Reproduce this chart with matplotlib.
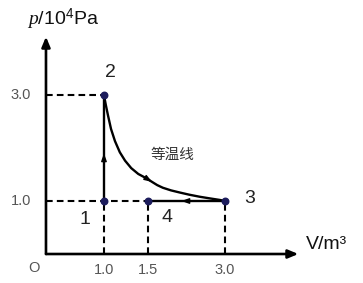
import numpy as np
import matplotlib
matplotlib.use("Agg")
import matplotlib.pyplot as plt
from matplotlib.scale import FuncScale

plt.rcParams["font.family"] = ["Liberation Sans", "DejaVu Sans"]
plt.rcParams["mathtext.fontset"] = "custom"
plt.rcParams["mathtext.rm"] = "Liberation Sans"
plt.rcParams["mathtext.it"] = "Liberation Serif:italic"

# states of the cycle (V in m^3, p in 1e4 Pa)
state_names = ["1", "2", "3", "4"]
state_V = [1.0, 1.0, 3.0, 1.5]
state_p = [1.0, 3.0, 1.0, 1.0]

# isotherm 2 -> 3
iso_V = [1.0, 1.02, 1.045, 1.08, 1.125, 1.18, 1.24, 1.31, 1.39, 1.48, 1.58, 1.68,
         1.79, 1.95, 2.12, 2.3, 2.51, 2.7, 2.9, 3.0]
iso_p = [3.0, 2.82, 2.62, 2.36, 2.13, 1.92, 1.76, 1.62, 1.51, 1.43, 1.36, 1.30,
         1.25, 1.20, 1.16, 1.12, 1.08, 1.05, 1.02, 1.0]

xticks = [1.0, 1.5, 3.0]
yticks = [1.0, 3.0]

# the sketch is not to scale on V: piecewise axis
knots_V = [-1.0, 0.0, 1.0, 1.5, 3.0, 6.0]
knots_u = [-58.0, 0.0, 58.0, 102.0, 179.0, 333.0]


def fwd(v):
    return np.interp(v, knots_V, knots_u)


def inv(u):
    return np.interp(u, knots_u, knots_V)


fig = plt.figure(figsize=(3.63, 2.83), dpi=100)
ax = fig.add_axes([0, 0, 1, 1])
ax.set_xscale(FuncScale(ax.xaxis, (fwd, inv)))
ax.set_xlim(-0.793, 5.69)
ax.set_ylim(-0.547, 4.792)
ax.axis("off")

navy = "#1c1c5c"
grey = "#555555"
dash = dict(color="black", lw=1.5, ls=(0, (3.2, 2)))

# axes with arrows
ax.annotate("", xy=(4.43, 0), xytext=(0, 0),
            arrowprops=dict(arrowstyle="-|>,head_length=0.6,head_width=0.25", lw=1.9, color="black", shrinkA=0, shrinkB=0))
ax.annotate("", xy=(0, 4.1), xytext=(0, 0),
            arrowprops=dict(arrowstyle="-|>,head_length=0.6,head_width=0.25", lw=1.9, color="black", shrinkA=0, shrinkB=0))

# guide lines
ax.plot([0, state_V[1]], [state_p[1], state_p[1]], **dash)
ax.plot([0, state_V[3]], [state_p[0], state_p[0]], **dash)
for v in xticks:
    ax.plot([v, v], [0, 1.0], **dash)

# process lines
ax.plot([state_V[0], state_V[1]], [state_p[0], state_p[1]], color="black", lw=1.7)
ax.plot([state_V[3], state_V[2]], [state_p[3], state_p[2]], color="black", lw=1.7)
ax.plot(iso_V, iso_p, color="black", lw=1.7, solid_joinstyle="round")

# direction arrows
head = dict(arrowstyle="-|>,head_length=0.45,head_width=0.16", lw=1.0, color="black", shrinkA=0, shrinkB=0)
ax.annotate("", xy=(1.0, 1.9), xytext=(1.0, 1.7), arrowprops=head)
ax.annotate("", xy=(iso_V[10], iso_p[10]), xytext=(iso_V[9], iso_p[9]), arrowprops=head)
ax.annotate("", xy=(2.15, 1.0), xytext=(2.4, 1.0), arrowprops=head)

ax.scatter(state_V, state_p, s=22, color=navy, zorder=5)

# labels
label_pos = {"1": (0.67, 0.66), "2": (1.07, 3.43), "3": (3.49, 1.04), "4": (1.87, 0.68)}
for name in state_names:
    ax.text(*label_pos[name], name, fontsize=14, ha="center", va="center", color="#222222")

for v in xticks:
    ax.text(v, -0.30, f"{v:.1f}", fontsize=10.5, ha="center", va="center", color=grey)
for p in yticks:
    ax.text(-0.43, p, f"{p:.1f}", fontsize=10.5, ha="center", va="center", color=grey)
ax.text(-0.21, -0.26, "O", fontsize=10.5, ha="center", va="center", color=grey)

ax.text(-0.33, 4.43, r"$\mathit{p}$/10$^{4}$Pa", fontsize=14, ha="left", va="center", color="#111111")
ax.text(4.58, 0.17, "V/m³", fontsize=14, ha="left", va="center", color="#111111")
ax.text(1.97, 1.87, "等温线", fontsize=10.5, ha="center", va="center", color="#333333",
        family=["Noto Sans CJK SC", "DejaVu Sans"])

fig.savefig("out.png", dpi=100)
